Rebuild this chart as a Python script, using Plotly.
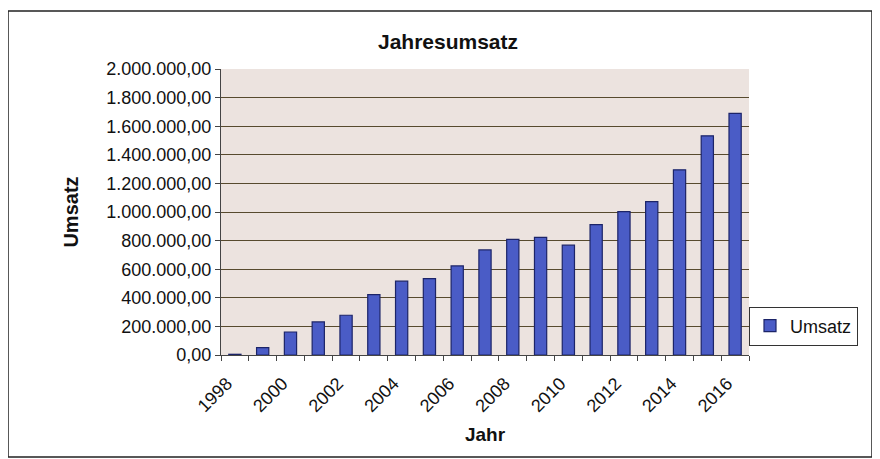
import plotly.graph_objects as go

years = list(range(1998, 2017))
umsatz = [5000, 51000, 161000, 231000, 278000, 422000, 516000, 534000, 623000,
          735000, 808000, 822000, 768000, 912000, 1002000, 1072000, 1295000,
          1533000, 1690000]
tick_years = list(range(1998, 2017, 2))

font_family = "Liberation Sans, Arial, sans-serif"

# the page body has an 8px margin; positions below are page coordinates minus 8
OFF = 8
W, H = 880 - OFF, 459 - OFF
L = 221 - OFF
T = 69 - OFF
R = W - (749 - OFF)
B = H - (355 - OFF)
pw, ph = W - L - R, H - T - B

fig = go.Figure()
fig.add_trace(go.Bar(
    x=years, y=umsatz, name="Umsatz", width=0.44,
    marker=dict(color="#4a5cc6", line=dict(color="#1c2468", width=1.2)),
    showlegend=True,
))

fig.update_layout(
    width=W, height=H,
    margin=dict(l=L, r=R, t=T, b=B),
    paper_bgcolor="white",
    plot_bgcolor="#ece3df",
    separators=",.",
    font=dict(family=font_family, color="#111111", size=18),
    title=dict(text="<b>Jahresumsatz</b>", x=(448 - OFF) / W, xanchor="center",
               y=1 - (42 - OFF) / H, yanchor="middle", font=dict(size=21)),
    showlegend=True,
    legend=dict(x=1.0, xanchor="left", y=(355 - 326) / ph, yanchor="middle",
                bordercolor="#333333", borderwidth=1, bgcolor="white",
                font=dict(size=18), itemwidth=30,
                tracegroupgap=0),
    shapes=[dict(type="rect", xref="paper", yref="paper",
                 x0=(8 - 221) / pw, x1=(872 - 221) / pw,
                 y0=(355 - 457) / ph, y1=(355 - 11) / ph,
                 line=dict(color="#222222", width=1.5), layer="below")],
)

fig.update_xaxes(
    range=[1997.5, 2016.5],
    tickmode="array", tickvals=tick_years, ticktext=[str(y) for y in tick_years],
    tickangle=-45, ticks="", showgrid=False,
    showline=True, linecolor="#444444", linewidth=1,
    minor=dict(ticks="outside", tick0=1997.5, dtick=1, ticklen=5,
               tickcolor="#444444", showgrid=False),
    ticklabelstandoff=10, ticklabelshift=-8,
    title=dict(text="<b>Jahr</b>", font=dict(size=19), standoff=12),
    tickfont=dict(size=18),
)
fig.update_yaxes(
    range=[0, 2000000], dtick=200000, tickformat=",.2f",
    showgrid=True, gridcolor="#574a2e", gridwidth=1.3,
    showline=True, linecolor="#444444", linewidth=1,
    ticks="outside", ticklen=5, tickcolor="#444444",
    zeroline=False,
    title=dict(text="<b>Umsatz</b>", font=dict(size=20), standoff=22),
    tickfont=dict(size=18),
)

fig.write_html("out.html")
